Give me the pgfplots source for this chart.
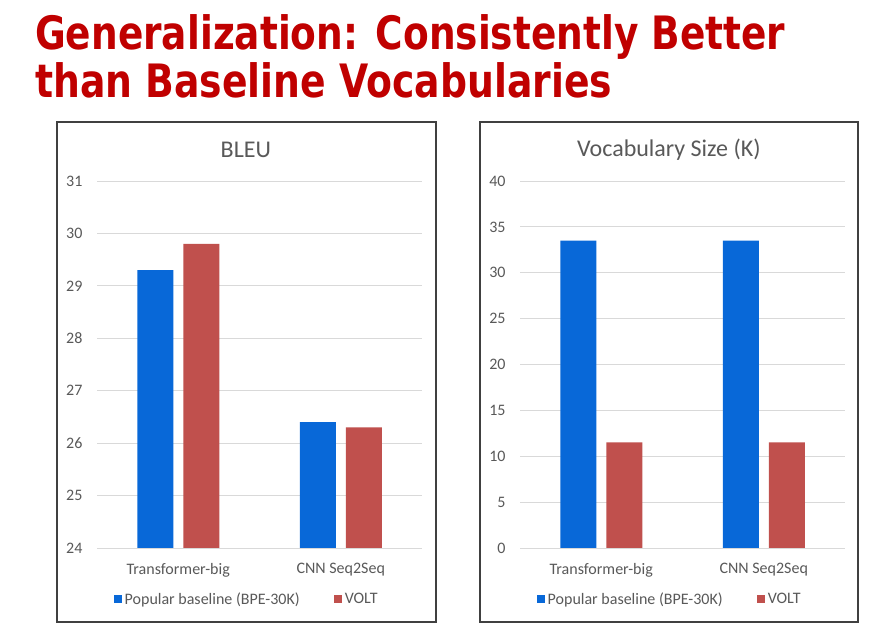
\documentclass[border=0pt]{standalone}
\usepackage{pgfplots}
\pgfplotsset{compat=1.18}
\usepackage{fontspec}
\usepackage{graphicx}
\setmainfont{Carlito}
\newfontfamily\titlefont{DejaVu Sans}
\definecolor{titlered}{HTML}{C00000}
\definecolor{barblue}{HTML}{0868D8}
\definecolor{barred}{HTML}{C0504D}
\definecolor{txtgray}{HTML}{595959}
\definecolor{gridgray}{HTML}{D9D9D9}
\definecolor{framegray}{HTML}{404040}
\newcommand{\gapentry}[1]{\mbox{#1\rule{32pt}{0pt}}}
\pgfplotsset{
  panel/.style={
    scale only axis,
    width=325pt, height=367pt,
    xmin=-0.5, xmax=1.5,
    xtick={0,1},
    xticklabels={Transformer-big, CNN Seq2Seq},
    ybar, bar width=36pt,
    enlargelimits=false,
    axis line style={draw=none},
    major tick length=0pt,
    ymajorgrids,
    grid style={color=gridgray, line width=0.9pt},
    /pgf/number format/assume math mode=true,
    yticklabel style={font=\fontsize{16}{19}\selectfont, text=txtgray, xshift=-11pt},
    xticklabel style={font=\fontsize{16}{19}\selectfont, text=txtgray, yshift=-12pt},
    title style={at={(0.458,1)}, anchor=center, yshift=25pt, font=\fontsize{24}{28}\selectfont, text=txtgray},
    legend style={at={(0.462,-0.139)}, anchor=center, draw=none, fill=none,
      legend columns=2, font=\fontsize{16}{19}\selectfont, text=txtgray,
      nodes={inner xsep=2.5pt, inner ysep=2pt}},
    legend cell align=left,
    legend image code/.code={\fill[#1] (0pt,-4pt) rectangle (8pt,4pt);},
  }
}
\begin{document}
\begin{tikzpicture}[x=1pt,y=1pt]
\path[use as bounding box, fill=white] (0pt,0pt) rectangle (894pt,644pt);
\node[anchor=base west, inner sep=0pt, text=titlered] at (35pt,594pt)
  {\resizebox{750pt}{\height}{\titlefont\bfseries\fontsize{46}{50}\selectfont Generalization: Consistently Better}};
\node[anchor=base west, inner sep=0pt, text=titlered] at (35pt,546pt)
  {\resizebox{577pt}{\height}{\titlefont\bfseries\fontsize{46}{50}\selectfont than Baseline Vocabularies}};
\draw[framegray, line width=1.2pt] (57pt,22pt) rectangle (436pt,522pt);
\draw[framegray, line width=1.2pt] (480pt,22pt) rectangle (858pt,522pt);
\begin{axis}[panel, at={(97pt,96pt)}, anchor=south west,
  ymin=24, ymax=31, ytick={24,25,...,31}, title={BLEU}]
\addplot[fill=barblue, draw=none, bar shift=-23pt] coordinates {(0,29.3) (1,26.4)};
\addplot[fill=barred, draw=none, bar shift=23pt] coordinates {(0,29.8) (1,26.3)};
\legend{\gapentry{Popular baseline (BPE-30K)}, VOLT}
\end{axis}
\begin{axis}[panel, at={(520pt,96pt)}, anchor=south west,
  ymin=0, ymax=40, ytick={0,5,...,40}, title={Vocabulary Size (K)}]
\addplot[fill=barblue, draw=none, bar shift=-23pt] coordinates {(0,33.5) (1,33.5)};
\addplot[fill=barred, draw=none, bar shift=23pt] coordinates {(0,11.5) (1,11.5)};
\legend{\gapentry{Popular baseline (BPE-30K)}, VOLT}
\end{axis}
\end{tikzpicture}
\end{document}
